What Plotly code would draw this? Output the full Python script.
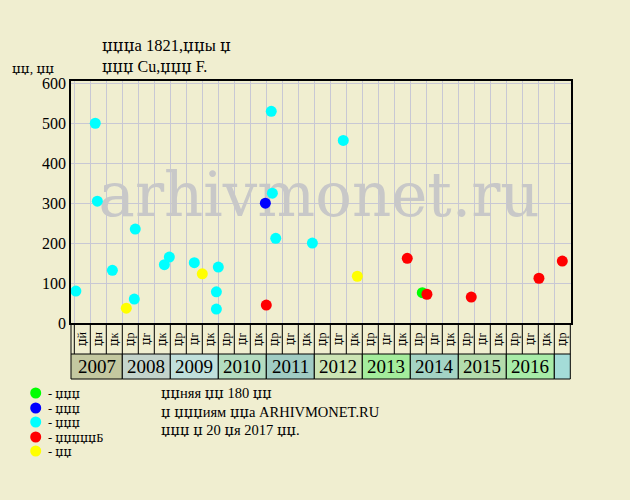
import re
import plotly.graph_objects as go

# ---------------- data ----------------
period_labels = ["џй", "џн", "џк"] + ["џр", "џг", "џк"] * 9 + ["џр"]
years = ["2007", "2008", "2009", "2010", "2011", "2012", "2013", "2014", "2015", "2016", ""]
year_start = [-0.206, 3, 6, 9, 12, 15, 18, 21, 24, 27, 30]
year_end = [3, 6, 9, 12, 15, 18, 21, 24, 27, 30, 31]
year_colors = ["#c4c8a0", "#c4d4cc", "#c0e0dc", "#b4dcc0", "#a0ccc4", "#cce4b4",
               "#a4ec9c", "#a4d4c4", "#b4dcac", "#a8eca8", "#a4dcd8"]

green_x = [21.75]
green_y = [76]
blue_x = [11.94]
blue_y = [300]
cyan_x = [0.1, 1.31, 1.44, 2.38, 3.81, 3.75, 5.63, 5.94, 7.5, 9.0, 8.88, 8.88,
          12.31, 12.38, 12.59, 14.88, 16.81]
cyan_y = [80, 500, 305, 132, 235, 60, 146, 165, 151, 140, 78, 35,
          530, 325, 212, 200, 457]
red_x = [12.0, 20.81, 22.04, 24.81, 29.04, 30.5]
red_y = [45, 162, 72, 65, 112, 155]
yellow_x = [3.25, 8.0, 17.69]
yellow_y = [37, 123, 117]

series = [
    ("- џџџ", "#00ff00", green_x, green_y),
    ("- џџџ", "#0000ff", blue_x, blue_y),
    ("- џџџ", "#00ffff", cyan_x, cyan_y),
    ("- џџџџџБ", "#ff0000", red_x, red_y),
    ("- џџ", "#ffff00", yellow_x, yellow_y),
]

title1 = "џџџа 1821,џџы џ"
title2 = "џџџ Cu,џџџ F."
ytitle = "џџ, џџ"
notes = ["џџняя џџ 180 џџ", "џ џџџиям џџа ARHIVMONET.RU", "џџџ џ 20 џя 2017 џџ."]

# ---------------- layout helpers ----------------
W, H = 630, 500
ML, MR, MT, MB = 71, 59, 81, 177
PW, PH = W - ML - MR, H - MT - MB
FONT = "Liberation Serif"
BG = "#f0eed0"


def fx(t):
    # glyphs missing in the main serif face fall back to DejaVu Serif
    return re.sub("(џ+)", r'<span style="font-family:DejaVu Serif">\1</span>', t)


def py(p):
    return (H - MB - p) / PH


def px(p):
    return (p - ML) / PW


fig = go.Figure()

# watermark (below markers)
fig.add_trace(go.Scatter(x=[15.3], y=[305], mode="text", text=["arhivmonet.ru"],
                         textfont=dict(family="DejaVu Serif", size=61, color="#c8c8c8"),
                         hoverinfo="skip", showlegend=False))

for name, color, xs, ys in series:
    fig.add_trace(go.Scatter(x=xs, y=ys, mode="markers", name=name,
                             marker=dict(size=11, color=color, line=dict(width=0)),
                             showlegend=False, hoverinfo="skip"))

shapes = []
ann = []

# period label band
band_top, band_mid, band_bot = 323, 354, 379
shapes.append(dict(type="line", xref="paper", yref="paper", x0=0, x1=0,
                   y0=py(band_top), y1=py(band_bot), line=dict(color="black", width=1)))
for k in range(0, 32):
    shapes.append(dict(type="line", xref="x", yref="paper", x0=k, x1=k,
                       y0=py(band_top), y1=py(band_mid), line=dict(color="black", width=1)))
for k, lab in enumerate(period_labels):
    ann.append(dict(x=k + 0.5, xref="x", y=py(339), yref="paper", text=fx(lab),
                    textangle=-90, showarrow=False, xanchor="center", yanchor="middle",
                    font=dict(family=FONT, size=12, color="black")))

# year band
for yl, x0, x1, c in zip(years, year_start, year_end, year_colors):
    shapes.append(dict(type="rect", xref="x", yref="paper", x0=x0, x1=x1,
                       y0=py(band_bot), y1=py(band_mid), fillcolor=c,
                       line=dict(color="black", width=1)))
    if yl:
        ann.append(dict(x=(x0 + x1) / 2, xref="x", y=py(366.5), yref="paper",
                        text=yl, showarrow=False, xanchor="center", yanchor="middle",
                        font=dict(family=FONT, size=19, color="black")))

# titles
ann.append(dict(x=px(100), y=py(45.5), xref="paper", yref="paper", text=fx(title1),
                showarrow=False, xanchor="left", yanchor="middle",
                font=dict(family=FONT, size=16.5, color="black")))
ann.append(dict(x=px(100), y=py(66), xref="paper", yref="paper", text=fx(title2),
                showarrow=False, xanchor="left", yanchor="middle",
                font=dict(family=FONT, size=16, color="black")))
ann.append(dict(x=px(10), y=py(68), xref="paper", yref="paper", text=fx(ytitle),
                showarrow=False, xanchor="left", yanchor="middle",
                font=dict(family=FONT, size=13.5, color="black")))

# legend (manual)
leg_y = [393, 408, 422, 437, 451]
for (name, color, _, _), ly in zip(series, leg_y):
    shapes.append(dict(type="circle", xref="paper", yref="paper",
                       xsizemode="pixel", ysizemode="pixel",
                       xanchor=px(35.7), yanchor=py(ly),
                       x0=-5.5, x1=5.5, y0=-5.5, y1=5.5,
                       fillcolor=color, line=dict(width=0)))
    ann.append(dict(x=px(46), y=py(ly), xref="paper", yref="paper", text=fx(name),
                    showarrow=False, xanchor="left", yanchor="middle",
                    font=dict(family=FONT, size=12.5, color="black")))

for t, ny in zip(notes, [393, 411.5, 430]):
    ann.append(dict(x=px(159), y=py(ny), xref="paper", yref="paper", text=fx(t),
                    showarrow=False, xanchor="left", yanchor="middle",
                    font=dict(family=FONT, size=14.5, color="black")))

fig.update_layout(
    width=W, height=H,
    margin=dict(l=ML, r=MR, t=MT, b=MB, pad=0),
    paper_bgcolor=BG, plot_bgcolor=BG,
    showlegend=False,
    shapes=shapes, annotations=ann,
    xaxis=dict(range=[-0.206, 31.044], tick0=0, dtick=1, showticklabels=False,
               showgrid=True, gridcolor="#c8c8d4", gridwidth=1, zeroline=False,
               showline=True, linecolor="black", linewidth=1.5, mirror=True, ticks=""),
    yaxis=dict(range=[0, 605.8], tick0=0, dtick=100, showgrid=True, gridcolor="#c8c8d4",
               gridwidth=1, zeroline=False, showline=True, linecolor="black",
               linewidth=1.5, mirror=True, ticks="",
               tickfont=dict(family=FONT, size=16, color="black")),
)

fig.write_html("out.html", config={"displayModeBar": False},
               post_script="document.body.style.margin='0px';"
                           "document.body.style.background='" + BG + "';")
